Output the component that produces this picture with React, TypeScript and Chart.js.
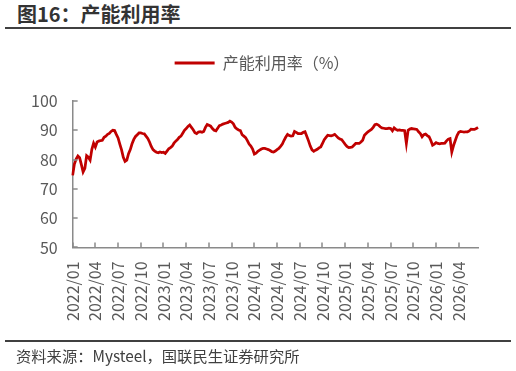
import React, { useEffect, useRef } from "react";
import { Chart, registerables } from "chart.js";

Chart.register(...registerables);

const seriesName = "产能利用率（%）";

const tickLabels = [
  "2022/01", "2022/04", "2022/07", "2022/10",
  "2023/01", "2023/04", "2023/07", "2023/10",
  "2024/01", "2024/04", "2024/07", "2024/10",
  "2025/01", "2025/04", "2025/07", "2025/10",
  "2026/01", "2026/04",
];

// weekly capacity utilisation (%), starting first week of 2022/01
const utilisation = [
  74.6, 78.5, 80.2, 81.2, 80.6, 78.3, 75.8, 77.0, 81.3, 80.8, 79.8, 83.5, 85.6,
  84.3, 86.0, 86.3, 86.5, 86.6, 87.6, 88.0, 88.6, 88.9, 89.6, 90.0, 89.9, 88.6,
  87.4, 85.3, 83.3, 80.8, 79.4, 79.8, 82.0, 83.4, 85.4, 86.9, 87.9, 88.5, 89.1,
  89.1, 88.9, 88.8, 88.0, 87.2, 86.0, 84.5, 83.4, 82.9, 82.5, 82.3, 82.6, 82.4,
  82.5, 82.1, 82.9, 83.7, 84.1, 84.6, 85.6, 86.3, 86.8, 87.6, 88.0, 89.0, 90.0,
  90.6, 91.3, 91.8, 91.0, 90.2, 89.2, 88.9, 89.4, 89.5, 89.3, 89.6, 91.0, 92.0,
  91.7, 91.4, 90.6, 90.0, 89.8, 90.7, 91.6, 91.8, 92.1, 92.3, 92.5, 92.7, 93.1,
  92.8, 92.2, 91.0, 90.5, 90.1, 89.9, 88.5, 88.0, 87.5, 86.5, 85.3, 84.6, 83.6,
  81.9, 82.2, 82.8, 83.2, 83.6, 83.8, 83.8, 83.6, 83.4, 83.1, 82.7, 82.6, 82.9,
  83.4, 83.8, 84.5, 85.3, 86.6, 87.7, 88.6, 88.2, 88.0, 88.1, 89.6, 89.3, 88.9,
  88.9, 88.9, 89.3, 89.5, 88.0, 86.4, 84.6, 83.3, 82.8, 83.2, 83.5, 84.0, 84.3,
  85.5, 86.8, 87.6, 88.3, 88.2, 88.1, 88.3, 88.6, 88.0, 87.4, 87.0, 86.8, 86.0,
  85.2, 84.5, 84.1, 84.2, 84.3, 84.9, 85.5, 85.5, 85.5, 86.0, 86.6, 88.3, 88.9,
  89.5, 89.9, 90.3, 91.0, 91.9, 92.1, 91.8, 91.2, 90.8, 90.7, 90.6, 90.6, 90.7,
  90.6, 89.8, 90.8, 90.3, 90.0, 90.1, 90.0, 90.0, 89.9, 85.5, 90.0, 90.4, 90.6,
  90.5, 90.4, 90.3, 89.5, 88.9, 87.8, 88.5, 88.7, 88.2, 87.8, 86.5, 84.9, 85.3,
  85.8, 85.5, 85.4, 85.5, 85.5, 85.6, 86.4, 87.0, 87.2, 82.6, 84.8, 86.5, 88.2,
  89.3, 89.6, 89.5, 89.4, 89.5, 89.5, 89.8, 90.4, 90.3, 90.3, 90.6, 91.0,
];

const WEEKS_PER_QUARTER = 13;
const weeks = utilisation.map((_, i) => `W${i}`);

const FONT = '"Noto Sans CJK SC", "Microsoft YaHei", sans-serif';
const AXIS_GRAY = "#8a8a8a";
const TEXT_GRAY = "#595959";
const RED = "#C00000";

const innerTicks = {
  id: "innerTicks",
  afterDatasetsDraw(chart: any) {
    const { ctx, chartArea, scales } = chart;
    ctx.save();
    ctx.strokeStyle = AXIS_GRAY;
    ctx.lineWidth = 1.5;
    ctx.beginPath();
    const y = scales.y;
    y.ticks.forEach((_: any, i: number) => {
      const py = Math.round(y.getPixelForTick(i));
      ctx.moveTo(chartArea.left, py);
      ctx.lineTo(chartArea.left + 5, py);
    });
    const x = scales.x;
    x.ticks.forEach((_: any, i: number) => {
      const px = Math.round(x.getPixelForTick(i));
      ctx.moveTo(px, chartArea.bottom);
      ctx.lineTo(px, chartArea.bottom - 5);
    });
    ctx.stroke();
    ctx.restore();
  },
};

// extra space between the legend and the plot area, and centre the legend over the plot
const legendGap = {
  id: "legendGap",
  beforeUpdate(chart: any) {
    const lg = chart.legend;
    if (lg && !lg.__gapPatched) {
      const fit = lg.fit;
      lg.fit = function () {
        fit.call(this);
        this.height += 20;
        if (this.lineWidths && this.lineWidths.length) this.lineWidths[0] -= 30;
      };
      lg.__gapPatched = true;
    }
  },
};

export default function App() {
  const ref = useRef<HTMLCanvasElement | null>(null);

  useEffect(() => {
    if (!ref.current) return;
    const chart = new Chart(ref.current, {
      type: "line",
      data: {
        labels: weeks,
        datasets: [
          {
            label: seriesName,
            data: utilisation,
            borderColor: RED,
            backgroundColor: RED,
            borderWidth: 2.75,
            pointRadius: 0,
            tension: 0,
          },
        ],
      },
      options: {
        animation: false,
        responsive: true,
        maintainAspectRatio: false,
        layout: { padding: { top: 34, left: 16, right: 38, bottom: 36 } },
        plugins: {
          tooltip: { enabled: false },
          legend: {
            position: "top",
            labels: {
              boxWidth: 40,
              boxHeight: 3,
              padding: 21,
              color: TEXT_GRAY,
              font: { family: FONT, size: 16 },
              generateLabels: (c: any) =>
                Chart.defaults.plugins.legend.labels
                  .generateLabels(c)
                  .map((l: any) => ({ ...l, lineWidth: 0, fillStyle: RED })),
            },
          },
        },
        scales: {
          x: {
            type: "category",
            offset: false,
            grid: { display: false, drawTicks: false },
            border: { display: true, color: AXIS_GRAY, width: 1.5 },
            afterBuildTicks: (scale: any) => {
              scale.ticks = scale.ticks.filter(
                (t: any) => t.value % WEEKS_PER_QUARTER === 0
              );
            },
            ticks: {
              autoSkip: false,
              minRotation: 90,
              maxRotation: 90,
              padding: 14,
              color: TEXT_GRAY,
              font: { family: FONT, size: 16 },
              callback: (value: any) =>
                tickLabels[Math.round(Number(value) / WEEKS_PER_QUARTER)] ?? null,
            },
          },
          y: {
            min: 50,
            max: 100,
            grid: { display: false, drawTicks: false },
            border: { display: true, color: AXIS_GRAY, width: 1.5 },
            ticks: {
              stepSize: 10,
              padding: 15,
              color: TEXT_GRAY,
              font: { family: FONT, size: 16 },
            },
          },
        },
      },
      plugins: [innerTicks, legendGap],
    });
    return () => chart.destroy();
  }, []);

  return (
    <div
      style={{
        position: "absolute",
        left: 0,
        top: 0,
        width: 516,
        height: 371,
        background: "#fff",
        fontFamily: FONT,
        overflow: "hidden",
      }}
    >
      <div
        style={{
          position: "absolute",
          left: 17,
          top: 1,
          fontSize: 20,
          fontWeight: 700,
          color: "#333",
          lineHeight: "26px",
          whiteSpace: "nowrap",
        }}
      >
        图16：产能利用率
      </div>
      <div
        style={{
          position: "absolute",
          left: 5,
          top: 27,
          width: 506,
          height: 2,
          background: "#404040",
        }}
      />
      <div style={{ position: "absolute", left: 0, top: 0, width: 516, height: 371 }}>
        <canvas ref={ref} />
      </div>
      <div
        style={{
          position: "absolute",
          left: 5,
          top: 340,
          width: 506,
          height: 2,
          background: "#404040",
        }}
      />
      <div
        style={{
          position: "absolute",
          left: 16,
          top: 345,
          fontSize: 15.3,
          color: "#404040",
          lineHeight: "20px",
          whiteSpace: "nowrap",
        }}
      >
        资料来源：Mysteel，国联民生证券研究所
      </div>
    </div>
  );
}
